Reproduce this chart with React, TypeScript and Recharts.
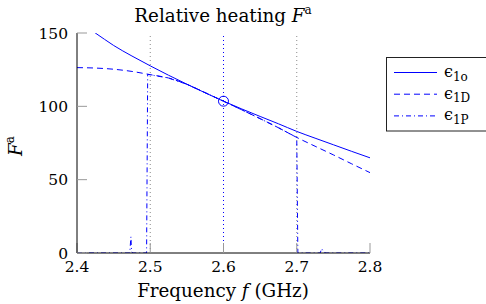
import { LineChart, Line, XAxis, YAxis, ReferenceLine, ReferenceDot } from 'recharts'

// axis ticks and marker frequencies (GHz)
const X_TICKS = [2.4, 2.5, 2.6, 2.7, 2.8]
const Y_TICKS = [0, 50, 100, 150]
const GRAY_MARKERS = [2.5, 2.7]
const CENTER_FREQ = 2.6
const CENTER_VALUE = 103.5

// eps_1o (solid)
const FREQ_O = [2.4, 2.425, 2.45, 2.475, 2.5, 2.525, 2.55, 2.575, 2.6, 2.625, 2.65, 2.675, 2.7, 2.725, 2.75, 2.775, 2.8]
const EPS_O = [158, 150, 141.5, 134.3, 127.6, 121.2, 115.1, 109.2, 103.5, 98.2, 93.1, 88.1, 82.9, 78.3, 73.8, 69.3, 64.9]

// eps_1D (dashed)
const FREQ_D = [2.4, 2.425, 2.45, 2.475, 2.5, 2.525, 2.55, 2.575, 2.6, 2.625, 2.65, 2.675, 2.7, 2.725, 2.75, 2.775, 2.8]
const EPS_D = [126.4, 126.1, 125.3, 123.8, 121.6, 119.3, 115, 109.3, 103.5, 97.6, 91.6, 85.4, 78.8, 72.8, 66.9, 60.8, 54.8]

// eps_1P (dash-dot)
const FREQ_P = [2.4, 2.472, 2.4736, 2.4745, 2.476, 2.495, 2.4965, 2.525, 2.55, 2.575, 2.6, 2.625, 2.65, 2.675, 2.7, 2.7015, 2.732, 2.734, 2.737, 2.74, 2.8]
const EPS_P = [0, 0, 11, 1, 0, 0, 121.8, 119.3, 115, 109.3, 103.5, 97.6, 91.6, 85.4, 78.8, 0, 0, 3, 0.5, 0, 0]

const zip = (xs: number[], ys: number[]) => xs.map((x, i) => ({ x, y: ys[i] }))

const BLUE = '#0000ff'
const FONT = 'DejaVu Serif'
const FS = 18.3
const TICK_FS = 15.5

const LEGEND = [
  { sub: '1o', dash: undefined },
  { sub: '1D', dash: '6 4' },
  { sub: '1P', dash: '5 3 1 3' },
]

export default function App() {
  return (
    <div style={{ position: 'absolute', left: 0, top: 0, width: 486, height: 304, background: '#fff', fontFamily: FONT }}>
      <LineChart width={486} height={304} margin={{ top: 33, right: 116, bottom: 0, left: 17 }}>
        <XAxis
          type='number'
          dataKey='x'
          domain={[2.4, 2.8]}
          ticks={X_TICKS}
          interval={0}
          allowDataOverflow
          height={51}
          tickFormatter={(v) => Number(v).toFixed(1)}
          tickSize={-10}
          tickMargin={18}
          tickLine={{ stroke: '#999' }}
          axisLine={{ stroke: '#000' }}
          tick={{ fill: '#000', fontSize: TICK_FS, fontFamily: FONT }}
        />
        <YAxis
          type='number'
          domain={[0, 150]}
          ticks={Y_TICKS}
          interval={0}
          allowDataOverflow
          width={60}
          tickSize={-10}
          tickMargin={19}
          tickLine={{ stroke: '#999' }}
          axisLine={{ stroke: '#000' }}
          tick={{ fill: '#000', fontSize: TICK_FS, fontFamily: FONT }}
        />
        {GRAY_MARKERS.map((f) => (
          <ReferenceLine key={f} x={f} stroke='#8a8a8a' strokeDasharray='1 3' />
        ))}
        <ReferenceLine x={CENTER_FREQ} stroke={BLUE} strokeDasharray='1 3' />
        <Line data={zip(FREQ_O, EPS_O)} dataKey='y' type='monotone' stroke={BLUE} strokeWidth={1} dot={false} isAnimationActive={false} />
        <Line data={zip(FREQ_D, EPS_D)} dataKey='y' type='monotone' stroke={BLUE} strokeWidth={1} strokeDasharray='6 4' dot={false} isAnimationActive={false} />
        <Line data={zip(FREQ_P, EPS_P)} dataKey='y' type='linear' stroke={BLUE} strokeWidth={1} strokeDasharray='5 3 1 3' dot={false} isAnimationActive={false} />
        <ReferenceDot x={CENTER_FREQ} y={CENTER_VALUE} r={5} fill='none' stroke={BLUE} strokeWidth={1} />
      </LineChart>
      <svg width={486} height={304} style={{ position: 'absolute', left: 0, top: 0, pointerEvents: 'none', fontFamily: FONT }}>
        <text x={223} y={21.5} textAnchor='middle' fontSize={FS}>
          Relative heating <tspan fontStyle='italic'>F</tspan>
          <tspan dy={-7.5} fontSize={12}>a</tspan>
        </text>
        <text x={223} y={297} textAnchor='middle' fontSize={FS}>
          Frequency <tspan fontStyle='italic'>f</tspan> (GHz)
        </text>
        <text transform='translate(21.5,146) rotate(-90)' textAnchor='middle' fontSize={FS}>
          <tspan fontStyle='italic'>F</tspan>
          <tspan dy={-7.5} fontSize={12}>a</tspan>
        </text>
        <rect x={386.5} y={57.5} width={110} height={73.5} fill='#fff' stroke='#222' />
        {LEGEND.map((e, i) => (
          <g key={e.sub}>
            <line x1={394} x2={437} y1={72.5 + i * 21.7} y2={72.5 + i * 21.7} stroke={BLUE} strokeDasharray={e.dash} />
            <text x={444} y={77 + i * 21.7} fontSize={16}>
              ϵ<tspan dy={3.5} fontSize={12}>{e.sub}</tspan>
            </text>
          </g>
        ))}
      </svg>
    </div>
  )
}
